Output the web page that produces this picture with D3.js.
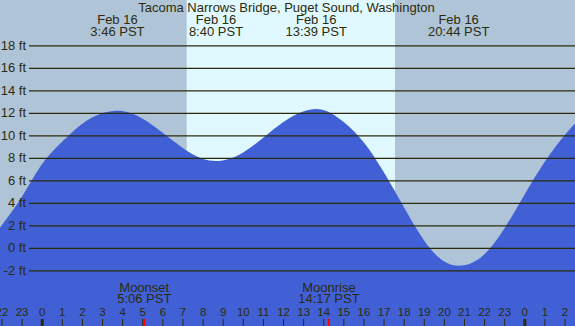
<!DOCTYPE html>
<html>
<head>
<meta charset="utf-8">
<script src="https://cdn.jsdelivr.net/npm/d3@7"></script>
<style>
  body { margin: 0; background: #fff; }
  svg { display: block; font-family: "Liberation Sans", Arial, sans-serif; }
</style>
</head>
<body>
<div id="chart"></div>
<script>
const width = 575;
const height = 326;

// tide height (hours from midnight Feb 16, feet)
const tideHours = [-2.1, -1, 0, 1, 2, 3, 4, 5, 6, 7, 8, 9, 10, 11, 12, 13,
  14, 15, 16, 17, 18, 19, 20, 21, 22, 23, 24, 25, 26, 26.6];
const tideFeet = [1.75, 4.5, 7.4, 9.4, 11.0, 11.95, 12.16, 11.5, 10.25, 8.9, 7.92, 7.77,
  8.45, 9.75, 11.15, 12.12, 12.25, 11.2, 9.4, 6.75, 3.65, 0.7, -1.2, -1.55, -0.6, 1.7,
  4.7, 7.6, 10.0, 11.2];

const extremeHours = [3.767, 8.667, 13.65, 20.733];
const extremeDates = ["Feb 16", "Feb 16", "Feb 16", "Feb 16"];
const extremeTimes = ["3:46 PST", "8:40 PST", "13:39 PST", "20:44 PST"];

const sunrise = 7.21;
const sunset = 17.57;

const moonHours = [5.1, 14.283];
const moonNames = ["Moonset", "Moonrise"];
const moonTimes = ["5:06 PST", "14:17 PST"];

const feetTicks = [-2, 0, 2, 4, 6, 8, 10, 12, 14, 16, 18];

const textColor = "#2b2b0b";

const svg = d3
  .select("#chart")
  .append("svg")
  .attr("width", width)
  .attr("height", height);

const xScale = d3.scaleLinear().domain([-2.074, 26.52]).range([0, width]);
const yScale = d3.scaleLinear().domain([-2, 18]).range([270.3, 45.3]);

// night / day background
svg.append("rect")
  .attr("width", width)
  .attr("height", height)
  .attr("fill", "#b0c4d8");
svg.append("rect")
  .attr("x", xScale(sunrise))
  .attr("y", 0)
  .attr("width", xScale(sunset) - xScale(sunrise))
  .attr("height", height)
  .attr("fill", "#e0f8ff");

// tide
const tide = tideHours.map((h, i) => [h, tideFeet[i]]);
const area = d3.area()
  .x(d => xScale(d[0]))
  .y0(height)
  .y1(d => yScale(d[1]))
  .curve(d3.curveNatural);
svg.append("path")
  .datum(tide)
  .attr("d", area)
  .attr("fill", "#4160d6");

// feet grid
const yAxis = d3.axisLeft(yScale)
  .tickValues(feetTicks)
  .tickSize(-(width - 29))
  .tickPadding(3)
  .tickFormat(d => d + " ft");
const yG = svg.append("g")
  .attr("transform", "translate(29,0)")
  .call(yAxis);
yG.select(".domain").remove();
yG.selectAll(".tick line").attr("stroke", textColor).attr("stroke-width", 1.2);
yG.selectAll(".tick text")
  .attr("fill", textColor)
  .style("font-size", "13px")
  .style("font-family", "Liberation Sans, Arial, sans-serif");

// hour axis
const xAxis = d3.axisTop(xScale)
  .tickValues(d3.range(-2, 27))
  .tickSize(7)
  .tickPadding(3)
  .tickFormat(d => ((d % 24) + 24) % 24);
const xG = svg.append("g")
  .attr("transform", `translate(0,${height})`)
  .call(xAxis);
xG.select(".domain").remove();
xG.selectAll(".tick line")
  .attr("stroke", textColor)
  .attr("stroke-width", d => (d % 24 === 0 ? 3 : 1));
xG.selectAll(".tick text")
  .attr("fill", textColor)
  .style("font-size", "11.5px")
  .style("font-family", "Liberation Sans, Arial, sans-serif");

// moon ticks and labels
svg.selectAll(".moontick")
  .data(moonHours)
  .enter()
  .append("line")
  .attr("x1", d => xScale(d))
  .attr("x2", d => xScale(d))
  .attr("y1", height - 7)
  .attr("y2", height)
  .attr("stroke", "#ff0000")
  .attr("stroke-width", 2);

const moonG = svg.selectAll(".moon")
  .data(moonHours)
  .enter()
  .append("text")
  .attr("text-anchor", "middle")
  .attr("fill", textColor)
  .style("font-size", "13px");
moonG.append("tspan")
  .attr("x", d => xScale(d))
  .attr("y", 291.7)
  .text((d, i) => moonNames[i]);
moonG.append("tspan")
  .attr("x", d => xScale(d))
  .attr("y", 303.3)
  .text((d, i) => moonTimes[i]);

// high / low labels
const extG = svg.selectAll(".ext")
  .data(extremeHours)
  .enter()
  .append("text")
  .attr("text-anchor", "middle")
  .attr("fill", textColor)
  .style("font-size", "13px");
extG.append("tspan")
  .attr("x", d => xScale(d))
  .attr("y", 24)
  .text((d, i) => extremeDates[i]);
extG.append("tspan")
  .attr("x", d => xScale(d))
  .attr("y", 35.7)
  .text((d, i) => extremeTimes[i]);

// title
svg.append("text")
  .attr("x", 286.5)
  .attr("y", 11.5)
  .attr("text-anchor", "middle")
  .attr("fill", textColor)
  .style("font-size", "13px")
  .text("Tacoma Narrows Bridge, Puget Sound, Washington");
</script>
</body>
</html>
